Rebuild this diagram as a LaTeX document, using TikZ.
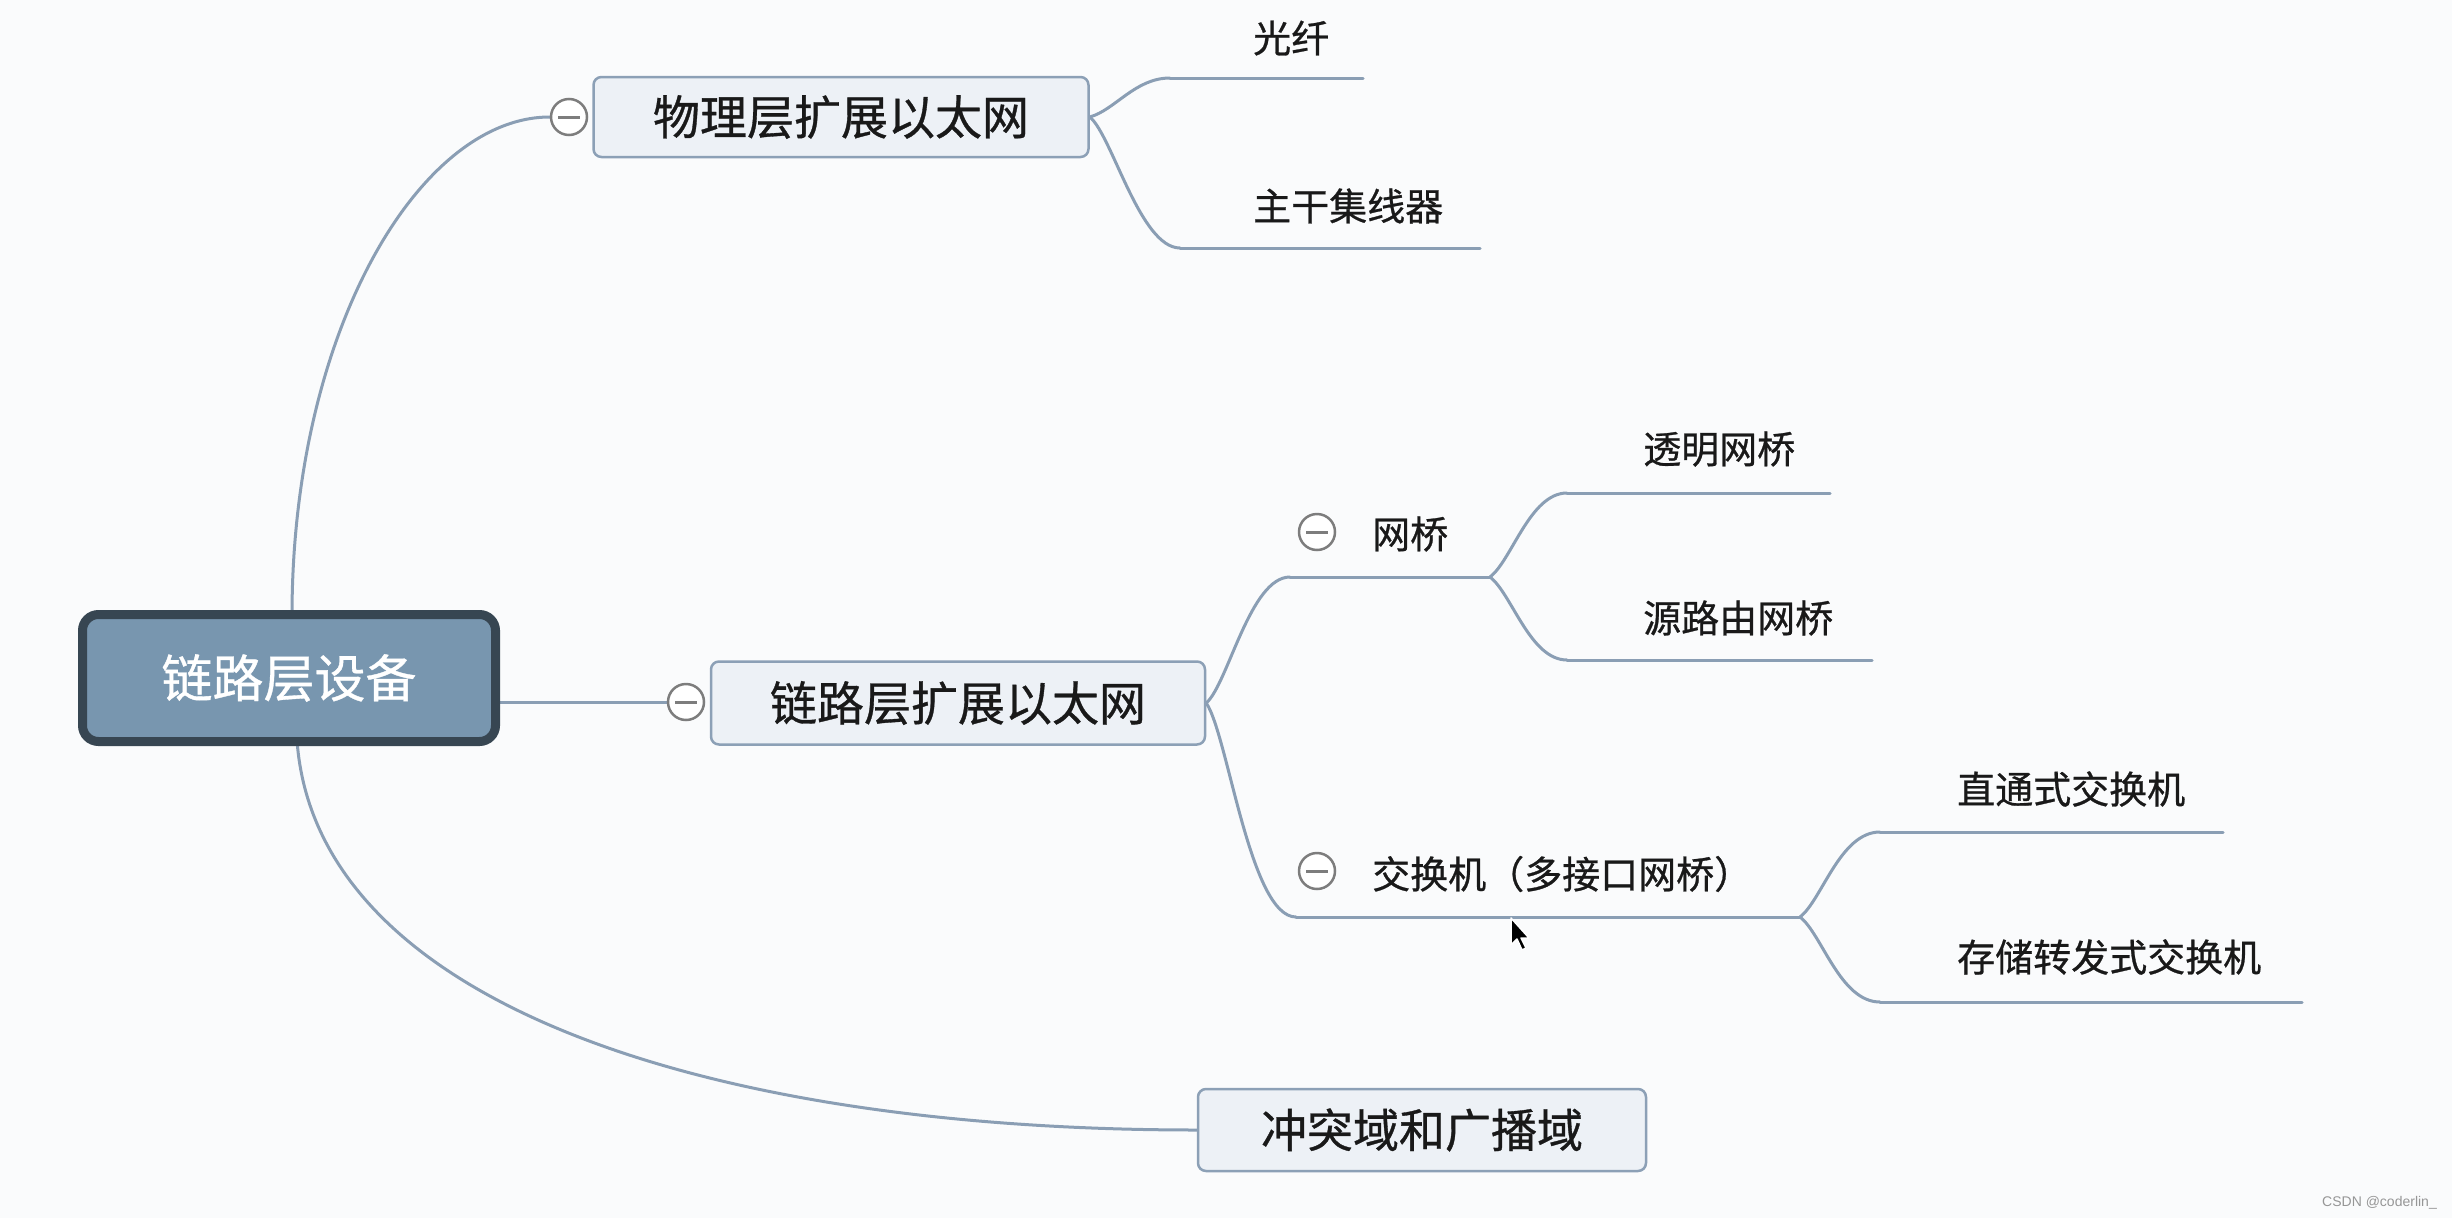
\documentclass[tikz,border=0pt]{standalone}
\usepackage{fontspec}
\setmainfont{Noto Sans CJK SC}[FakeBold=0.7]
\newfontfamily\latinfont{Liberation Sans}
\usetikzlibrary{calc}
\definecolor{bgcol}{RGB}{250,251,252}
\definecolor{linecol}{RGB}{138,158,180}
\definecolor{boxfill}{RGB}{237,241,246}
\definecolor{boxdraw}{RGB}{140,160,182}
\definecolor{rootfill}{RGB}{120,150,175}
\definecolor{rootdraw}{RGB}{55,70,82}
\definecolor{foldcol}{RGB}{125,125,125}
\definecolor{txtcol}{RGB}{25,25,25}
\pgfdeclarelayer{back}
\pgfdeclarelayer{lines}
\pgfsetlayers{back,lines,main}
\begin{document}
\begin{tikzpicture}[x=1pt,y=-1pt,
  conn/.style={draw=linecol, line width=3pt, line cap=round},
  topicbox/.style={draw=boxdraw, fill=boxfill, line width=2.5pt, rounded corners=8pt,
     text=txtcol, inner sep=0pt, font=\fontsize{47}{56}\selectfont},
  rootbox/.style={draw=rootdraw, fill=rootfill, line width=9pt, rounded corners=16pt,
     text=white, inner sep=0pt, minimum width=413pt, minimum height=127pt,
     font=\fontsize{51}{60}\selectfont},
  leaf/.style={anchor=west, text=txtcol, inner sep=0pt, font=\fontsize{38}{44}\selectfont},
  fold/.style={circle, draw=foldcol, fill=white, line width=2.5pt, minimum size=36pt,
     inner sep=0pt, path picture={\draw[foldcol, line width=3pt]
       ([xshift=-11pt]path picture bounding box.center) -- ([xshift=11pt]path picture bounding box.center);}}
]
\useasboundingbox (0,0) rectangle (2452,1218);
\begin{pgfonlayer}{back}
\fill[bgcol] (0,0) rectangle (2452,1218);
\end{pgfonlayer}

% main topics
\node[rootbox] (root) at (289,678) {链路层设备};
\node[topicbox, minimum width=495pt, minimum height=80pt] (b1) at (841,117) {物理层扩展以太网};
\node[topicbox, minimum width=494pt, minimum height=83pt] (b2) at (958,703) {链路层扩展以太网};
\node[topicbox, minimum width=448pt, minimum height=82pt, font=\fontsize{46}{54}\selectfont] (b3) at (1422,1130) {冲突域和广播域};

% fold markers
\node[fold] (f1) at (569,117) {};
\node[fold] (f2) at (686,702) {};
\node[fold] (f3) at (1317,532) {};
\node[fold] (f4) at (1317,871) {};

% sub topics (text)
\node[leaf] (l1) at (1253,38) {光纤};
\node[leaf] (l2) at (1253,206) {主干集线器};
\node[leaf] (wq) at (1372,534) {网桥};
\node[leaf] (l3) at (1643,449) {透明网桥};
\node[leaf] (l4) at (1643,618) {源路由网桥};
\node[leaf] (jh) at (1372,874) {交换机（多接口网桥）};
\node[leaf] (l5) at (1957,789) {直通式交换机};
\node[leaf] (l6) at (1957,957) {存储转发式交换机};

% underline end points
\coordinate (rtop) at (292,616);
\coordinate (rbot) at (297,740);
\coordinate (l1s) at (1170,78);  \coordinate (l1e) at (1363,78);
\coordinate (l2s) at (1180,248); \coordinate (l2e) at (1480,248);
\coordinate (wqs) at (1290,577); \coordinate (wqe) at (1490,577);
\coordinate (l3s) at (1567,493); \coordinate (l3e) at (1830,493);
\coordinate (l4s) at (1567,660); \coordinate (l4e) at (1872,660);
\coordinate (jhs) at (1296,917); \coordinate (jhe) at (1800,917);
\coordinate (l5s) at (1880,832); \coordinate (l5e) at (2223,832);
\coordinate (l6s) at (1880,1002); \coordinate (l6e) at (2302,1002);

\begin{pgfonlayer}{lines}
\draw[conn] (rtop) .. controls (292,330) and (420,117) .. (f1.west);
\draw[conn] (f2.west -| root.east) -- (f2.west);
\draw[conn] (rbot) .. controls (315,1000) and (700,1130) .. (b3.west);

\draw[conn] (b1.east) .. controls (1115,110) and (1135,78) .. (l1s);
\draw[conn] (b1.east) .. controls (1112,135) and (1140,248) .. (l2s);
\draw[conn] (l1s) -- (l1e);
\draw[conn] (l2s) -- (l2e);

\draw[conn] (b2.east) .. controls (1228,684) and (1250,577) .. (wqs);
\draw[conn] (b2.east) .. controls (1228,735) and (1250,917) .. (jhs);
\draw[conn] (wqs) -- (wqe);
\draw[conn] (jhs) -- (jhe);

\draw[conn] (wqe) .. controls (1512,560) and (1530,493) .. (l3s);
\draw[conn] (wqe) .. controls (1512,594) and (1530,660) .. (l4s);
\draw[conn] (l3s) -- (l3e);
\draw[conn] (l4s) -- (l4e);

\draw[conn] (jhe) .. controls (1822,900) and (1840,832) .. (l5s);
\draw[conn] (jhe) .. controls (1822,934) and (1840,1002) .. (l6s);
\draw[conn] (l5s) -- (l5e);
\draw[conn] (l6s) -- (l6e);
\end{pgfonlayer}

% mouse pointer
\filldraw[fill=black, draw=white, line width=1.5pt, line join=round]
  (1511,918) -- ++(0,27) -- ++(6,-6) -- ++(5,11) -- ++(4,-2) -- ++(-5,-10) -- ++(8,0) -- cycle;

% watermark
\node[anchor=east, inner sep=0pt, text={rgb,255:red,150;green,150;blue,150},
  font=\latinfont\fontsize{14}{16}\selectfont] (wm) at (2437,1203) {CSDN @coderlin\_};
\end{tikzpicture}
\end{document}
